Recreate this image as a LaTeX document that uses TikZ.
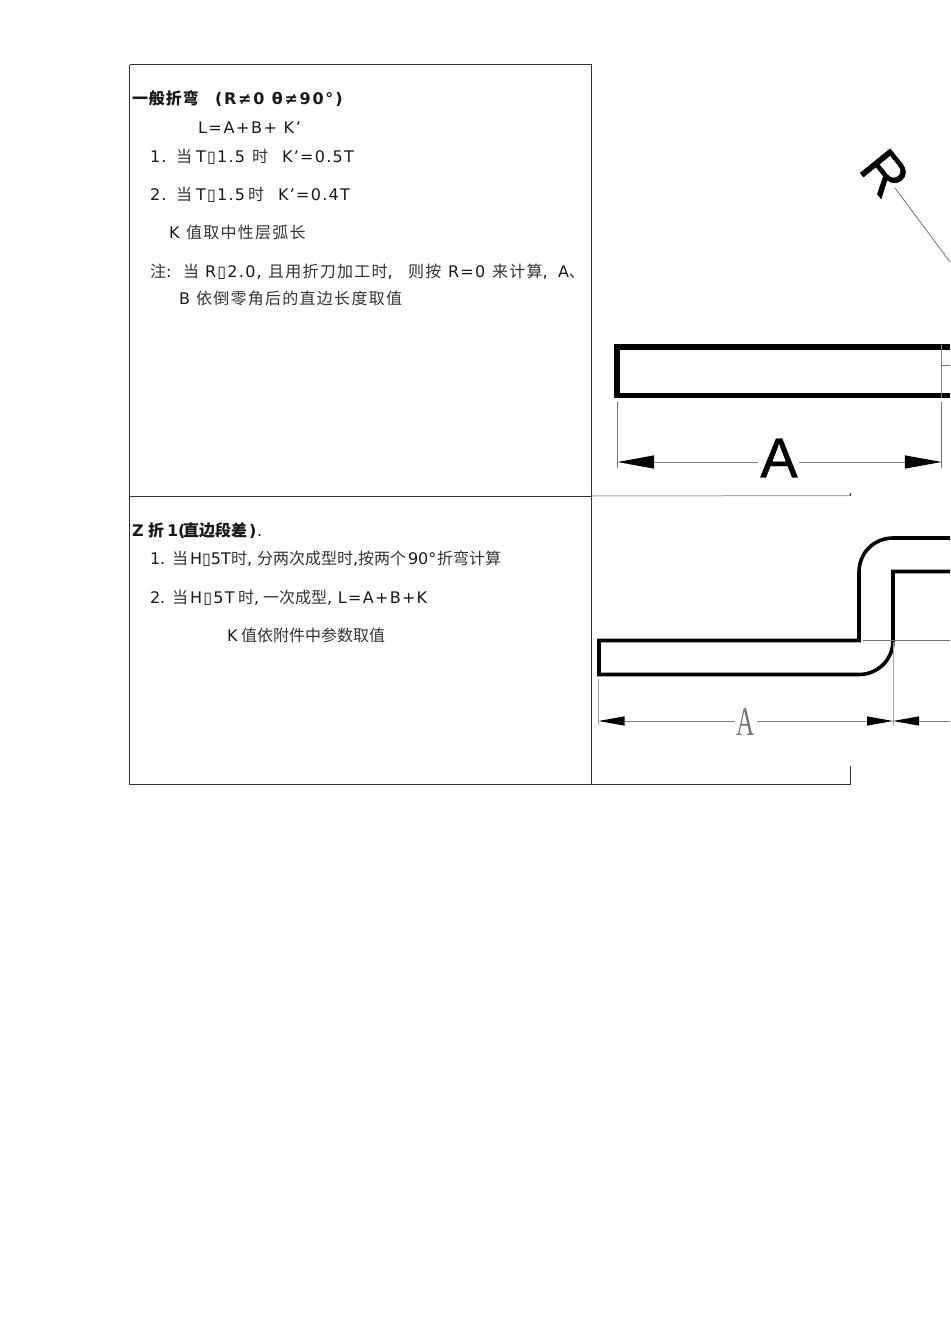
\documentclass[tikz,border=0pt]{standalone}
\usepackage{fontspec}
\usetikzlibrary{arrows.meta}
\setmainfont{DejaVu Sans}
\newfontfamily\cjA[LetterSpace=8]{Noto Sans CJK SC}
\newfontfamily\cjB{Noto Sans CJK SC}
\newfontfamily\cjC[LetterSpace=6]{Noto Sans CJK SC}
\newfontfamily\figfont[FakeBold=0.8]{Liberation Sans}
\newfontfamily\serfont{Liberation Serif}
\newdimen\pxu \pxu=0.75pt
\newcommand\fr[2]{\makebox[#1\pxu][l]{#2}}
\newcommand\ca[1]{{\cjA\color{black!80}#1}}
\newcommand\cb[1]{{\cjB\color{black!80}#1}}
\newcommand\lsp{\addfontfeature{LetterSpace=8}}
\definecolor{rulec}{gray}{0.2}
\definecolor{dimc}{gray}{0.5}
\tikzset{
  txt/.style={anchor=base west,inner sep=0pt,outer sep=0pt,font=\fontsize{12pt}{14pt}\selectfont,text=black!90},
  tabline/.style={draw=rulec,line width=0.75pt},
  lightline/.style={draw=black!35,line width=0.75pt},
  part/.style={draw=black,line width=3.8pt},
  partb/.style={draw=black,line width=2.7pt,line join=miter},
  dimline/.style={draw=dimc,line width=0.65pt},
  extline/.style={draw=black!55,line width=0.6pt},
  bigtip/.style={{Triangle[length=27.5pt,width=10pt,line width=0pt,color=black,fill=black]}-},
  smalltip/.style={{Triangle[length=19.5pt,width=7pt,line width=0pt,color=black,fill=black]}-},
  biglab/.style={inner sep=0pt,outer sep=0pt,font=\figfont\fontsize{42pt}{42pt}\selectfont},
}
\begin{document}
\begin{tikzpicture}[x=0.75pt,y=-0.75pt]
\useasboundingbox (0,0) rectangle (950,1344);
% table
\coordinate (tl) at (129.5,65);
\coordinate (tr) at (591.5,65);
\coordinate (ml) at (129.5,496);
\coordinate (mr) at (591.5,496);
\coordinate (bl) at (129.5,784);
\coordinate (bm) at (591.5,784);
\coordinate (br) at (850.5,784);
\coordinate (brt) at (850.5,766);
\coordinate (ex) at (850.5,495.5);
\coordinate (ext) at (850.5,493);
\draw[tabline] (tl) -- (tr) -- (bm);
\draw[tabline] (tl) -- (bl) -- (br) -- (brt);
\draw[tabline] (ml) -- (mr);
\draw[lightline] (mr) -- (ex);
\draw[tabline] (ex) -- (ext);
% block 1
\node[txt] (t1) at (132,105) {\fr{83}{{\cjC\bfseries 一般折弯}}{\bfseries\addfontfeature{LetterSpace=11}(R≠0 θ≠90°)}};
\node[txt] (t2) at (198,134) {\addfontfeature{LetterSpace=10}L=A+B+ K’};
\node[txt] (t3) at (150,163) {\fr{26}{\lsp 1.}\fr{20}{\ca{当}}\fr{56}{\lsp T▯1.5}\fr{30}{\ca{时}}\lsp K’=0.5T};
\node[txt] (t4) at (150,201) {\fr{26}{\lsp 2.}\fr{20}{\ca{当}}\fr{52}{\lsp T▯1.5}\fr{30}{\ca{时}}\lsp K’=0.4T};
\node[txt] (t5) at (169,239) {\fr{17}{K}\ca{值取中性层弧长}};
\node[txt] (t6) at (150,277) {\fr{33}{\ca{注}:}\fr{22}{\ca{当}}\fr{63}{\lsp R▯2.0,}\fr{140}{\ca{且用折刀加工时},}\fr{40}{\ca{则按}}\fr{44}{\lsp R=0}\fr{66}{\ca{来计算},}\lsp A\ca{、}};
\node[txt] (t7) at (179,305) {\fr{17}{B}\ca{依倒零角后的直边长度取值}};
% block 2
\node[txt] (u1) at (132,536) {\fr{16}{\bfseries Z}\fr{19}{{\cjB\bfseries 折}}\fr{16}{\bfseries 1(}\fr{66}{{\cjB\bfseries 直边段差}}\fr{8}{\bfseries )}.};
\node[txt] (u2) at (150,564) {\fr{22}{1.}\fr{18}{\cb{当}}\fr{41}{H▯5T}\fr{26}{\cb{时},}\fr{96}{\cb{分两次成型时}}\fr{55}{,\cb{按两个}}\fr{29}{90°}\cb{折弯计算}};
\node[txt] (u3) at (150,603) {\fr{22}{2.}\fr{18}{\cb{当}}\fr{48}{\lsp H▯5T}\fr{25}{\cb{时},}\fr{75}{\cb{一次成型},}\lsp L=A+B+K};
\node[txt] (u4) at (227,641) {\fr{14}{K}\cb{值依附件中参数取值}};
% figure 1
\coordinate (p1) at (950,347);
\coordinate (p2) at (617,347);
\coordinate (p3) at (617,395.5);
\coordinate (p4) at (950,395.5);
\draw[part] (p1) -- (p2) -- (p3) -- (p4);
\coordinate (e1a) at (617.5,402);
\coordinate (e1b) at (617.5,468);
\coordinate (e2a) at (941.5,402);
\coordinate (e2b) at (941.5,468);
\coordinate (e3a) at (941.5,345);
\coordinate (e3b) at (941.5,398);
\coordinate (s1) at (941.5,365);
\coordinate (s2) at (950,365);
\draw[extline] (e1a) -- (e1b);
\draw[extline] (e2a) -- (e2b);
\draw[draw=white!50!black,line width=0.6pt] (e3a) -- (e3b);
\draw[extline] (s1) -- (s2);
\coordinate (d1) at (617.5,462);
\coordinate (d2) at (941.5,462);
\node[biglab] (A1) at (779,458) {A};
\coordinate (A1l) at (758,462);
\coordinate (A1r) at (799,462);
\draw[dimline,bigtip] (d1) -- (A1l);
\draw[dimline,bigtip] (d2) -- (A1r);
\node[biglab,rotate=-51] (R) at (885,173) {R};
\coordinate (Rl) at (895,188);
\coordinate (Rr) at (950,262);
\draw[extline] (Rl) -- (Rr);
% figure 2
\coordinate (q1) at (950,538);
\coordinate (q2) at (893,538);
\coordinate (q3) at (859,572);
\coordinate (q4) at (859,640.5);
\coordinate (q5) at (599,640.5);
\coordinate (q6) at (599,674.5);
\coordinate (q7) at (859,674.5);
\coordinate (q8) at (893,640.5);
\coordinate (q9) at (893,571.5);
\coordinate (q10) at (950,571.5);
\draw[partb] (q1) -- (q2) .. controls (874,538) and (859,553) .. (q3) -- (q4) -- (q5) -- (q6) -- (q7) .. controls (878,674.5) and (893,659.5) .. (q8) -- (q9) -- (q10);
\coordinate (g1) at (863,640);
\coordinate (g2) at (950,640);
\draw[extline] (g1) -- (g2);
\coordinate (v1) at (893,642);
\coordinate (v2) at (893,725);
\draw[draw=black!35,line width=0.75pt] (v1) -- (v2);
\coordinate (x1) at (598.5,679);
\coordinate (x2) at (598.5,725);
\draw[draw=black!35,line width=0.6pt] (x1) -- (x2);
\coordinate (f1) at (598.5,721);
\coordinate (f2) at (893,721);
\coordinate (f3) at (950,721);
\node[inner sep=0pt,outer sep=0pt,text=black!55,xscale=0.62,font=\serfont\fontsize{30.5pt}{30.5pt}\selectfont] (A2) at (746,722) {A};
\coordinate (A2l) at (735,721);
\coordinate (A2r) at (757,721);
\draw[dimline,smalltip] (f1) -- (A2l);
\draw[dimline,smalltip] (f2) -- (A2r);
\draw[dimline,smalltip] (f2) -- (f3);
\end{tikzpicture}
\end{document}
